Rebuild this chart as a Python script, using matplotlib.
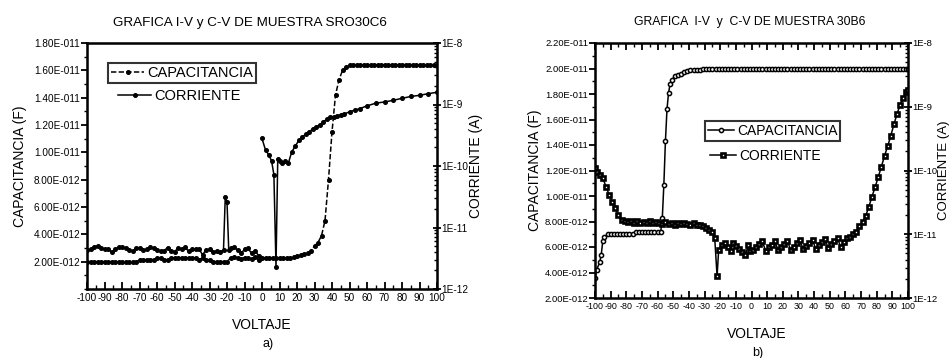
import numpy as np
import matplotlib
matplotlib.use("Agg")
import matplotlib.pyplot as plt
from matplotlib import font_manager
from matplotlib.ticker import MultipleLocator, FixedLocator, FuncFormatter, LogLocator, NullFormatter

plt.rcParams['font.family'] = ['Liberation Sans', 'DejaVu Sans']
plt.rcParams['axes.unicode_minus'] = False
installed = {f.name for f in font_manager.fontManager.ttflist}
NARROW = ['Liberation Sans Narrow', 'Liberation Sans'] if 'Liberation Sans Narrow' in installed else ['Liberation Sans']

# --- a) muestra SRO30C6 ---
volt_cap_a = list(range(-100, 101, 2))
cap_a = [2.0, 2.0, 2.0, 2.0, 2.0, 2.0, 2.0, 2.0, 2.0, 2.0, 2.0, 2.0, 2.0, 2.0, 2.0,
         2.15, 2.15, 2.15, 2.15, 2.15,
         2.27, 2.27, 2.15, 2.15,
         2.27, 2.27, 2.27, 2.27, 2.27, 2.27, 2.27, 2.27,
         2.15, 2.27, 2.1, 2.1, 2.0, 2.0, 2.0, 2.0, 2.0,
         2.27, 2.35, 2.27, 2.2, 2.3, 2.27, 2.2, 2.35, 2.15,
         2.27, 2.27, 2.27, 2.27, 2.27, 2.27, 2.27, 2.27,
         2.3, 2.36, 2.45, 2.5, 2.58, 2.62, 2.8, 3.15, 3.4, 3.9, 5.0, 8.0, 11.5, 14.2,
         15.3, 16.0, 16.25,
         16.4, 16.4, 16.4, 16.4, 16.4, 16.4, 16.4, 16.4, 16.4, 16.4, 16.4, 16.4, 16.4,
         16.4, 16.4, 16.4, 16.4, 16.4, 16.4, 16.4, 16.4, 16.4, 16.4, 16.4, 16.4, 16.4]   # pF

volt_cur_a = [-100, -98, -96, -94, -92, -90, -88, -86, -84, -82, -80, -78, -76, -74, -72,
              -70, -68, -66, -64, -62, -60, -58, -56, -54, -52, -50, -48, -46, -44, -42,
              -40, -38, -36, -34, -32, -30, -28, -26, -24, -22, -21, -20, -19, -18, -16,
              -14, -12, -10, -8, -6, -4, -2, -1,
              0, 2, 4, 5.5, 6.8, 8, 9, 10, 11.3, 13, 15, 17, 19, 21, 23, 25, 27, 29, 31,
              33, 35, 37, 39, 41, 43, 45, 47, 50, 53, 56, 60, 65, 70, 75, 80, 85, 90, 95, 100]
cur_a = [4.3e-12, 4.4e-12, 4.9e-12, 5.0e-12, 4.6e-12, 4.4e-12, 4.4e-12, 4.05e-12, 4.4e-12,
         4.8e-12, 4.8e-12, 4.6e-12, 4.3e-12, 4.1e-12, 4.6e-12, 4.7e-12, 4.3e-12, 4.4e-12,
         4.8e-12, 4.6e-12, 4.3e-12, 4.1e-12, 4.2e-12, 4.7e-12, 4.1e-12, 4.05e-12, 4.6e-12,
         4.5e-12, 4.8e-12, 4.1e-12, 4.4e-12, 4.4e-12, 4.5e-12, 3.6e-12, 4.3e-12, 4.4e-12,
         4.05e-12, 4.1e-12, 4.0e-12, 4.3e-12, 3.1e-11, 2.6e-11, 4.3e-12, 4.6e-12, 4.8e-12,
         4.3e-12, 3.8e-12, 4.4e-12, 4.6e-12, 3.8e-12, 4.2e-12, 3.5e-12, np.nan,
         2.8e-10, 1.82e-10, 1.5e-10, 1.2e-10, 7.2e-11, 2.3e-12, 1.3e-10, 1.2e-10, 1.1e-10,
         1.2e-10, 1.1e-10, 1.7e-10, 2.1e-10, 2.6e-10, 2.95e-10, 3.3e-10, 3.6e-10, 4.0e-10,
         4.3e-10, 4.7e-10, 5.2e-10, 5.75e-10, 6.3e-10, 6.3e-10, 6.5e-10, 6.8e-10, 7.0e-10,
         7.6e-10, 8.1e-10, 8.6e-10, 9.5e-10, 1.05e-9, 1.1e-9, 1.17e-9, 1.26e-9, 1.35e-9,
         1.41e-9, 1.5e-9, 1.58e-9]

# --- b) muestra 30B6 ---
volt_cap_b = [-100, -99, -97, -96, -95, -94, -92, -90, -88, -86, -84, -82, -80, -78, -76,
              -74, -72, -70, -68, -66, -64, -62, -60, -58, -57, -56, -55, -54, -53, -52,
              -51, -49, -47, -45, -43, -41, -39, -37, -35, -33, -31, -29, -27, -25, -23,
              -21, -19, -17, -15, -13, -11, -9, -7, -5, -3, -1, 1, 3, 5, 7, 9, 11, 13, 15,
              17, 19, 21, 23, 25, 27, 29, 31, 33, 35, 37, 39, 41, 43, 45, 47, 49, 51, 53,
              55, 57, 59, 61, 63, 65, 67, 69, 71, 73, 75, 77, 79, 81, 83, 85, 87, 89, 91,
              93, 95, 97, 99, 100]
cap_b = [3.55, 4.2, 4.8, 5.4, 6.5, 6.8, 7.0, 7.0, 7.05, 7.05, 7.05, 7.05, 7.05, 7.05, 7.05,
         7.15, 7.15, 7.15, 7.15, 7.15, 7.15, 7.15, 7.2, 7.2, 8.25, 10.9, 14.3, 16.8, 18.1, 18.8,
         19.1, 19.4, 19.5, 19.6, 19.7, 19.8, 19.85, 19.9, 19.9, 19.92, 19.94, 19.94, 19.95,
         20.0, 20.0, 20.0, 20.0, 20.0, 20.0, 20.0, 20.0, 20.0, 20.0, 20.0, 20.0, 20.0, 20.0,
         20.0, 20.0, 20.0, 20.0, 20.0, 20.0, 20.0, 20.0, 20.0, 20.0, 20.0, 20.0, 20.0, 20.0,
         20.0, 20.0, 20.0, 20.0, 20.0, 20.0, 20.0, 20.0, 20.0, 20.0, 20.0, 20.0, 20.0, 20.0,
         20.0, 20.0, 20.0, 20.0, 20.0, 20.0, 20.0, 20.0, 20.0, 20.0, 20.0, 20.0, 20.0, 20.0,
         20.0, 20.0, 20.0, 20.0, 20.0, 20.0, 20.0, 20.0]   # pF

volt_cur_b = [-100, -99, -97, -95, -93, -91, -89, -87, -85, -83, -81, -79, -77, -75, -73,
              -71, -69, -67, -65, -63, -61, -59, -57, -55, -53, -51, -49, -47, -45, -43,
              -41, -39, -37, -35, -33, -31, -29, -27, -25, -23.5, -22, -21, -19, -17, -15,
              -13, -12, -10, -8, -6, -4, -2, -1, 1, 3, 5, 7, 9, 11, 13, 15, 17, 19, 21, 23,
              25, 27, 29, 31, 33, 35, 37, 39, 41, 43, 45, 47, 49, 51,
              53, 55, 57, 59, 61, 63, 65, 67, 69, 71, 73, 75, 77, 79, 81, 83, 85, 87, 89,
              91, 93, 95, 97, 99, 100]
cur_b = [1.08e-10, 9.5e-11, 8.5e-11, 7.6e-11, 5.6e-11, 4.2e-11, 3.2e-11, 2.6e-11, 2.0e-11,
         1.7e-11, 1.62e-11, 1.55e-11, 1.6e-11, 1.5e-11, 1.6e-11, 1.52e-11, 1.58e-11, 1.5e-11,
         1.6e-11, 1.48e-11, 1.55e-11, 1.5e-11, 1.45e-11, 1.55e-11, 1.45e-11, 1.5e-11,
         1.42e-11, 1.5e-11, 1.45e-11, 1.52e-11, 1.45e-11, 1.42e-11, 1.48e-11, 1.42e-11,
         1.4e-11, 1.36e-11, 1.26e-11, 1.15e-11, 1.1e-11, 8.7e-12, 2.2e-12, 5.6e-12, 6.8e-12,
         7.2e-12, 6.3e-12, 5.5e-12, 7.4e-12, 6.5e-12, 5.8e-12, 5.2e-12, 4.7e-12, 6.8e-12,
         5.4e-12, 5.6e-12, 6.3e-12, 7.0e-12, 7.7e-12, 5.5e-12, 6.2e-12, 6.9e-12, 7.7e-12,
         5.6e-12, 6.3e-12, 7.0e-12, 7.8e-12, 5.7e-12, 6.4e-12, 7.2e-12, 8.0e-12, 5.8e-12,
         6.6e-12, 7.4e-12, 8.2e-12, 5.9e-12, 6.8e-12, 7.6e-12, 8.5e-12, 6.0e-12, 7.0e-12,
         7.8e-12, 8.6e-12, 6.3e-12, 7.5e-12, 8.6e-12, 9.2e-12, 1.0e-11, 1.1e-11, 1.35e-11,
         1.55e-11, 1.95e-11, 2.7e-11, 3.9e-11, 5.5e-11, 7.9e-11, 1.15e-10, 1.7e-10, 2.4e-10,
         3.5e-10, 5.3e-10, 7.7e-10, 1.08e-9, 1.35e-9, 1.68e-9, 1.82e-9]

x_ticks = [-100, -90, -80, -70, -60, -50, -40, -30, -20, -10, 0, 10, 20, 30, 40, 50, 60, 70, 80, 90, 100]
cap_ticks_a = [2e-12, 4e-12, 6e-12, 8e-12, 1e-11, 1.2e-11, 1.4e-11, 1.6e-11, 1.8e-11]
cap_ticks_b = [2e-12, 4e-12, 6e-12, 8e-12, 1e-11, 1.2e-11, 1.4e-11, 1.6e-11, 1.8e-11, 2e-11, 2.2e-11]
cur_ticks = [1e-12, 1e-11, 1e-10, 1e-9, 1e-8]

W, H = 951, 358


def cap_fmt(v, pos):
    e = int(np.floor(np.log10(v) + 1e-9))
    m = v / 10 ** e
    return f"{m:.2f}E-{-e:03d}"


def cur_fmt(v, pos):
    return f"1E{int(round(np.log10(v)))}"


def style_axes(ax, axr, font, tsize, xsize, top_ticks):
    for sp in ax.spines.values():
        sp.set_linewidth(1.8)
    ax.set_xlim(-100, 100)
    ax.xaxis.set_major_locator(FixedLocator(x_ticks))
    ax.xaxis.set_minor_locator(MultipleLocator(5))
    ax.tick_params(axis='x', which='major', direction='in', length=5, width=1.3,
                   labelsize=xsize, pad=3, top=top_ticks)
    ax.tick_params(axis='x', which='minor', direction='in', length=3, width=1.0, top=top_ticks)
    ax.tick_params(axis='y', which='major', direction='out', length=4, width=1.3,
                   labelsize=tsize, pad=1)
    ax.tick_params(axis='y', which='minor', direction='out', length=2.5, width=1.0)
    ax.yaxis.set_major_formatter(FuncFormatter(cap_fmt))
    ax.yaxis.set_minor_locator(MultipleLocator(1e-12))
    axr.set_yscale('log')
    axr.set_ylim(1e-12, 1e-8)
    axr.yaxis.set_major_locator(FixedLocator(cur_ticks))
    axr.yaxis.set_major_formatter(FuncFormatter(cur_fmt))
    axr.yaxis.set_minor_locator(LogLocator(base=10, subs=np.arange(2, 10)))
    axr.yaxis.set_minor_formatter(NullFormatter())
    axr.tick_params(axis='y', which='major', direction='inout', length=6, width=1.3,
                    labelsize=tsize, pad=0)
    axr.tick_params(axis='y', which='minor', direction='in', length=2.5, width=1.0)
    for t in ax.get_xticklabels() + ax.get_yticklabels() + axr.get_yticklabels():
        t.set_family(font)


fig = plt.figure(figsize=(W / 100, H / 100), dpi=100)

# ----- panel a -----
ax1 = fig.add_axes([87 / W, 1 - 289 / H, 350 / W, 246 / H])
ax1r = ax1.twinx()
ax1.set_ylim(0, 1.8e-11)
ax1.yaxis.set_major_locator(FixedLocator(cap_ticks_a))
style_axes(ax1, ax1r, ['Liberation Sans'], 7.2, 7.2, False)
l_cap_a, = ax1.plot(volt_cap_a, np.array(cap_a) * 1e-12, color='black', lw=1.1,
                    ls=(0, (3.5, 1.5)), marker='o', ms=2.6, label='CAPACITANCIA')
l_cur_a, = ax1r.plot(volt_cur_a, cur_a, color='black', lw=1.1, ls='-',
                     marker='o', ms=2.6, label='CORRIENTE')

leg1 = ax1r.legend(handles=[l_cap_a], loc='upper left', bbox_to_anchor=(108 / W, 1 - 63 / H),
                   bbox_transform=fig.transFigure, frameon=True, fancybox=False,
                   edgecolor='black', fontsize=10.5, handlelength=2.3, handletextpad=0.2,
                   borderpad=0.2, borderaxespad=0, numpoints=1)
leg1.get_frame().set_linewidth(1.5)
ax1r.add_artist(leg1)
ax1r.legend(handles=[l_cur_a], loc='upper left', bbox_to_anchor=(115 / W, 1 - 86 / H),
            bbox_transform=fig.transFigure, frameon=False, fontsize=10.5,
            handlelength=2.3, handletextpad=0.2, borderpad=0.2, borderaxespad=0, numpoints=1)

fig.text(250 / W, 1 - 23 / H, 'GRAFICA I-V y C-V DE MUESTRA SRO30C6', ha='center',
         va='center', fontsize=9.7)
fig.text(20 / W, 1 - 166 / H, 'CAPACITANCIA (F)', rotation=90, ha='center', va='center',
         fontsize=10)
fig.text(476 / W, 1 - 166 / H, 'CORRIENTE (A)', rotation=90, ha='center', va='center',
         fontsize=10)
fig.text(262 / W, 1 - 325 / H, 'VOLTAJE', ha='center', va='center', fontsize=10)
fig.text(268 / W, 1 - 344 / H, 'a)', ha='center', va='center', fontsize=9)

# ----- panel b -----
ax2 = fig.add_axes([595 / W, 1 - 298 / H, 313 / W, 255 / H])
ax2r = ax2.twinx()
ax2.set_ylim(2e-12, 2.2e-11)
ax2.yaxis.set_major_locator(FixedLocator(cap_ticks_b))
style_axes(ax2, ax2r, NARROW, 6.8, 6.4, True)
l_cap_b, = ax2.plot(volt_cap_b, np.array(cap_b) * 1e-12, color='black', lw=1.1, ls='-',
                    marker='o', ms=3.0, mfc='white', mec='black', mew=1.1,
                    label='CAPACITANCIA')
l_cur_b, = ax2r.plot(volt_cur_b, cur_b, color='black', lw=1.1, ls='-', marker='s',
                     ms=2.6, mfc='white', mec='black', mew=1.9, label='CORRIENTE')

leg2 = ax2r.legend(handles=[l_cap_b], loc='upper left', bbox_to_anchor=(705 / W, 1 - 121 / H),
                   bbox_transform=fig.transFigure, frameon=True, fancybox=False,
                   edgecolor='black', handlelength=1.9, handletextpad=0.2,
                   borderpad=0.2, borderaxespad=0, numpoints=1, prop={'family': NARROW, 'size': 10})
leg2.get_frame().set_linewidth(1.5)
ax2r.add_artist(leg2)
ax2r.legend(handles=[l_cur_b], loc='upper left', bbox_to_anchor=(707 / W, 1 - 146 / H),
            bbox_transform=fig.transFigure, frameon=False,
            handlelength=1.9, handletextpad=0.2, borderpad=0.2, borderaxespad=0, numpoints=1,
            prop={'family': NARROW, 'size': 10})

fig.text(750 / W, 1 - 22 / H, 'GRAFICA  I-V  y  C-V DE MUESTRA 30B6', ha='center',
         va='center', fontsize=8.8, family=NARROW)
fig.text(535 / W, 1 - 170 / H, 'CAPACITANCIA (F)', rotation=90, ha='center', va='center',
         fontsize=10, family=NARROW)
fig.text(944 / W, 1 - 170 / H, 'CORRIENTE (A)', rotation=90, ha='center', va='center',
         fontsize=9.5, family=NARROW)
fig.text(757 / W, 1 - 334 / H, 'VOLTAJE', ha='center', va='center', fontsize=10, family=NARROW)
fig.text(758 / W, 1 - 353 / H, 'b)', ha='center', va='center', fontsize=9, family=NARROW)

fig.savefig('out.png', dpi=100)
